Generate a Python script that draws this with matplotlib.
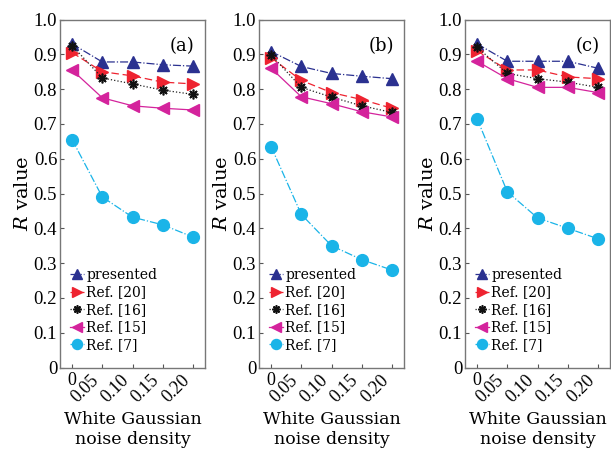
import matplotlib

matplotlib.use("Agg")

import matplotlib.pyplot as plt
from matplotlib.transforms import ScaledTranslation

# noise density levels
noise = [0, 0.05, 0.10, 0.15, 0.20]
tick_labels = ["0", "0.05", "0.10", "0.15", "0.20"]
panel_tags = ["(a)", "(b)", "(c)"]
series_names = ["presented", "Ref. [20]", "Ref. [16]", "Ref. [15]", "Ref. [7]"]

# R values, one list per method, per panel
presented_a = [0.930, 0.878, 0.878, 0.870, 0.866]
ref20_a = [0.905, 0.850, 0.838, 0.820, 0.815]
ref16_a = [0.925, 0.832, 0.815, 0.797, 0.785]
ref15_a = [0.855, 0.775, 0.752, 0.745, 0.740]
ref7_a = [0.655, 0.490, 0.432, 0.410, 0.375]

presented_b = [0.908, 0.865, 0.845, 0.837, 0.830]
ref20_b = [0.890, 0.825, 0.790, 0.770, 0.745]
ref16_b = [0.898, 0.805, 0.777, 0.752, 0.733]
ref15_b = [0.860, 0.778, 0.758, 0.735, 0.720]
ref7_b = [0.635, 0.440, 0.350, 0.310, 0.280]

presented_c = [0.930, 0.880, 0.880, 0.880, 0.860]
ref20_c = [0.910, 0.855, 0.855, 0.835, 0.830]
ref16_c = [0.920, 0.845, 0.830, 0.820, 0.805]
ref15_c = [0.880, 0.830, 0.805, 0.805, 0.790]
ref7_c = [0.715, 0.505, 0.430, 0.400, 0.370]

panels = [
    [presented_a, ref20_a, ref16_a, ref15_a, ref7_a],
    [presented_b, ref20_b, ref16_b, ref15_b, ref7_b],
    [presented_c, ref20_c, ref16_c, ref15_c, ref7_c],
]

styles = [
    dict(color="#2b3190", linestyle="-.", marker="^", markersize=9),
    dict(color="#ee2330", linestyle=(0, (6, 3)), marker=">", markersize=9),
    dict(color="#222222", linestyle=":", marker=(8, 2, 0), markersize=7,
         markeredgecolor="#111111", markeredgewidth=1.2),
    dict(color="#d4239c", linestyle="-", marker="<", markersize=9),
    dict(color="#1ab4e8", linestyle="-.", marker="o", markersize=8.5),
]

plt.rcParams.update({
    "font.family": "DejaVu Serif",
    "mathtext.fontset": "dejavuserif",
    "font.size": 12,
})
TICK_FONT = "Liberation Serif"

fig = plt.figure(figsize=(6.11, 4.5), dpi=100)
W, H = 611, 450
lefts = [60, 259, 465]
width = 145
bottom_px, top_px = 367.5, 19.5
shift = ScaledTranslation(3 / 100, -1 / 100, fig.dpi_scale_trans)

for i, (left, data) in enumerate(zip(lefts, panels)):
    ax = fig.add_axes([left / W, 1 - bottom_px / H, width / W, (bottom_px - top_px) / H])
    for name, vals, st in zip(series_names, data, styles):
        ax.plot(noise, vals, linewidth=0.9, label=name, **st)
    ax.set_xlim(-0.02, 0.22)
    ax.set_ylim(0, 1.0)
    ax.set_yticks([k / 10 for k in range(11)])
    ax.set_yticklabels(["0"] + [f"{k / 10:.1f}" for k in range(1, 11)],
                       fontsize=13.5, family=TICK_FONT)
    ax.set_xticks(noise)
    ax.set_xticklabels(tick_labels, rotation=45, ha="right", va="top",
                       fontsize=13, family=TICK_FONT)
    xlabs = ax.get_xticklabels()
    for lab in xlabs[1:]:
        lab.set_transform(lab.get_transform() + shift)
    xlabs[0].set_rotation(0)
    xlabs[0].set_ha("center")
    ax.tick_params(direction="in", length=3, color="#555555", pad=2)
    ax.tick_params(axis="x", pad=3)
    for sp in ax.spines.values():
        sp.set_color("#777777")
        sp.set_linewidth(1.0)
    ax.text(0.93, 0.95, panel_tags[i], transform=ax.transAxes, ha="right", va="top",
            fontsize=13)
    ax.set_ylabel("$R$ value", fontsize=14)
    ax.yaxis.set_label_coords(-0.19, 0.5)
    ax.set_xlabel("White Gaussian\nnoise density", fontsize=12.5, labelpad=4,
                  linespacing=1.2)
    ax.legend(loc="lower left", frameon=False, fontsize=10, handlelength=1.0,
              handletextpad=0.2, labelspacing=0.25, borderaxespad=0.3,
              markerscale=0.85, bbox_to_anchor=(0.0, 0.017))

fig.savefig("out.png", dpi=100)
